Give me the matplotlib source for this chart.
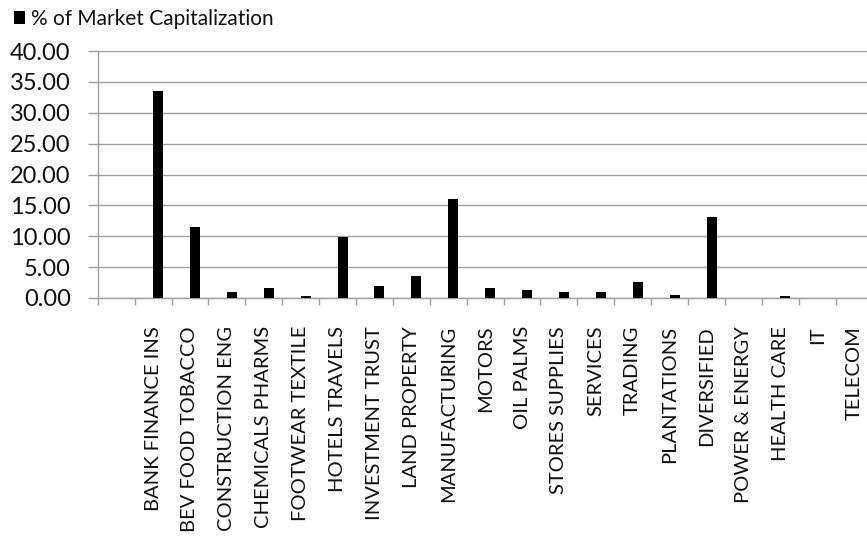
import matplotlib
matplotlib.use("Agg")
import matplotlib.pyplot as plt
from matplotlib.ticker import MultipleLocator, FormatStrFormatter

# sector share of total market capitalization (%); first slot is an empty category
sectors = [
    "", "BANK FINANCE INS", "BEV FOOD TOBACCO", "CONSTRUCTION ENG",
    "CHEMICALS PHARMS", "FOOTWEAR TEXTILE", "HOTELS TRAVELS",
    "INVESTMENT TRUST", "LAND PROPERTY", "MANUFACTURING", "MOTORS",
    "OIL PALMS", "STORES SUPPLIES", "SERVICES", "TRADING", "PLANTATIONS",
    "DIVERSIFIED", "POWER & ENERGY", "HEALTH CARE", "IT", "TELECOM",
]
market_cap_pct = [
    0.0, 33.6, 11.45, 1.02, 1.67, 0.27, 9.93, 1.94, 3.61, 16.0, 1.67,
    1.30, 0.92, 0.92, 2.54, 0.43, 13.1, 0.0, 0.27, 0.0, 0.0,
]
series_name = "% of Market Capitalization"

plt.rcParams["font.family"] = ["Lato", "DejaVu Sans"]
GRID = "#a0a0a0"
TEXT = "#111111"

W, H, DPI = 867, 549, 100
PX = 72 / DPI  # points per pixel
fig = plt.figure(figsize=(W / DPI, H / DPI), dpi=DPI)

# axes box in pixels: left edge of y axis, zero line, 40 line, ~37px per slot
left, zero_y, top_y, slot = 97.7, 298, 51, 36.9
n = len(sectors)
ax = fig.add_axes([left / W, (H - zero_y) / H, n * slot / W, (zero_y - top_y) / H])

x = list(range(n))
ax.bar(x, market_cap_pct, width=0.27, align="edge", color="black", linewidth=0, zorder=3)

ax.set_xlim(-0.5, n - 0.5)
ax.set_ylim(0, 40)
ax.yaxis.set_major_locator(MultipleLocator(5))
ax.yaxis.set_major_formatter(FormatStrFormatter("%.2f"))
ax.grid(axis="y", color=GRID, linewidth=1.0, zorder=0)

for side in ("top", "right"):
    ax.spines[side].set_visible(False)
for side in ("left", "bottom"):
    ax.spines[side].set_color(GRID)
    ax.spines[side].set_linewidth(1.0)

# category labels centred on slots, ticks on slot boundaries
ax.set_xticks(x)
ax.set_xticklabels(sectors, rotation=90, va="top", ha="center", fontsize=14.5, color=TEXT)
ax.set_xticks([i - 0.5 for i in range(n + 1)], minor=True)
ax.tick_params(axis="x", which="major", length=0, pad=28 * PX)
ax.tick_params(axis="x", which="minor", length=7 * PX, width=1.0, color=GRID, direction="out")
ax.tick_params(axis="y", length=10 * PX, width=1.0, color=GRID, direction="out", pad=17 * PX,
               labelsize=17, labelcolor=TEXT)

ax.bar([0], [0], color="black", label=series_name)
leg = fig.legend(loc="upper left", bbox_to_anchor=(14 / W, 1 - 9 / H), frameon=False,
                 fontsize=15, handlelength=0.55, handleheight=0.55, handletextpad=0.25,
                 borderaxespad=0, borderpad=0)
for t in leg.get_texts():
    t.set_color(TEXT)

fig.savefig("out.png", dpi=DPI)
